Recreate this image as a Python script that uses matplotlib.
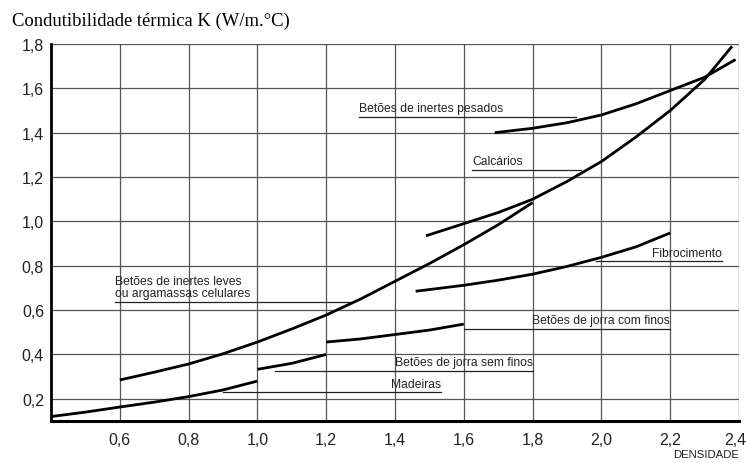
#!/usr/bin/env python3

# plot.py - condutibilidade termica vs densidade

import matplotlib
matplotlib.use('Agg')
import matplotlib.pyplot as plt
from matplotlib.transforms import ScaledTranslation

# curves (densidade, K)
madeiras_x = [0.4, 0.5, 0.6, 0.7, 0.8, 0.9, 1.0]
madeiras_y = [0.12, 0.14, 0.163, 0.185, 0.21, 0.24, 0.28]

jorra_sem_x = [1.0, 1.1, 1.2]
jorra_sem_y = [0.333, 0.36, 0.40]

jorra_com_x = [1.2, 1.3, 1.4, 1.5, 1.6]
jorra_com_y = [0.456, 0.47, 0.49, 0.51, 0.537]

leves_x = [0.6, 0.7, 0.8, 0.9, 1.0, 1.1, 1.2, 1.3, 1.4, 1.5, 1.6, 1.7, 1.8]
leves_y = [0.285, 0.32, 0.357, 0.403, 0.456, 0.515, 0.578, 0.65, 0.73, 0.81, 0.895, 0.985, 1.085]

calcarios_x = [1.49, 1.6, 1.7, 1.8, 1.9, 2.0, 2.1, 2.2, 2.3, 2.38]
calcarios_y = [0.935, 0.99, 1.04, 1.10, 1.18, 1.27, 1.38, 1.50, 1.64, 1.79]

pesados_x = [1.69, 1.8, 1.9, 2.0, 2.1, 2.2, 2.3, 2.39]
pesados_y = [1.40, 1.42, 1.445, 1.48, 1.53, 1.59, 1.65, 1.73]

fibro_x = [1.46, 1.6, 1.7, 1.8, 1.9, 2.0, 2.1, 2.2]
fibro_y = [0.685, 0.712, 0.735, 0.762, 0.797, 0.838, 0.885, 0.948]

# labels: text, text x, underline y, underline x0, x1, alignment
labels = [
    ('Betões de inertes pesados', 1.296, 1.472, 1.296, 1.925, 'left'),
    ('Calcários', 1.625, 1.234, 1.625, 1.94, 'left'),
    ('Fibrocimento', 2.35, 0.82, 1.985, 2.35, 'right'),
    ('Betões de inertes leves\nou argamassas celulares', 0.585, 0.636, 0.585, 1.275, 'left'),
    ('Betões de jorra com finos', 2.2, 0.515, 1.6, 2.2, 'right'),
    ('Betões de jorra sem finos', 1.8, 0.326, 1.05, 1.8, 'right'),
    ('Madeiras', 1.535, 0.23, 0.9, 1.535, 'right'),
]

xticks = [0.6, 0.8, 1.0, 1.2, 1.4, 1.6, 1.8, 2.0, 2.2, 2.4]
xtick_labels = ['0,6', '0,8', '1,0', '1,2', '1,4', '1,6', '1,8', '2,0', '2,2', '2,4']
yticks = [0.2, 0.4, 0.6, 0.8, 1.0, 1.2, 1.4, 1.6, 1.8]
ytick_labels = ['0,2', '0,4', '0,6', '0,8', '1,0', '1,2', '1,4', '1,6', '1,8']


def main():
    plt.rcParams['font.family'] = ['Liberation Sans', 'DejaVu Sans']
    fig = plt.figure(figsize=(7.46, 4.64), dpi=100)
    ax = fig.add_axes([51 / 746, 42 / 464, 688 / 746, 377 / 464])

    ax.set_xlim(0.4, 2.4)
    ax.set_ylim(0.1, 1.8)

    # grid
    for xv in xticks:
        ax.axvline(xv, color='#555555', lw=0.9, zorder=1)
    for yv in yticks:
        ax.axhline(yv, color='#555555', lw=0.9, zorder=1)

    for s in ['top', 'right']:
        ax.spines[s].set_visible(False)
    ax.spines['left'].set_linewidth(2.0)
    ax.spines['bottom'].set_linewidth(2.2)

    curves = [(madeiras_x, madeiras_y), (jorra_sem_x, jorra_sem_y),
              (jorra_com_x, jorra_com_y), (leves_x, leves_y),
              (calcarios_x, calcarios_y), (pesados_x, pesados_y),
              (fibro_x, fibro_y)]
    for xs, ys in curves:
        ax.plot(xs, ys, color='black', lw=2.0, solid_capstyle='butt', zorder=3)

    for text, tx, ty, x0, x1, ha in labels:
        ax.plot([x0, x1], [ty, ty], color='#222222', lw=0.9, zorder=2)
        ax.text(tx, ty + 0.012, text, ha=ha, va='bottom', fontsize=8.7,
                color='#222222', linespacing=1.05, zorder=4)

    ax.set_xticks(xticks)
    ax.set_xticklabels(xtick_labels)
    ax.set_yticks(yticks)
    ax.set_yticklabels(ytick_labels)
    ax.tick_params(length=0, labelsize=11.5, pad=8, colors='#222222')
    ax.tick_params(axis='y', pad=5)

    # last x label sits at the right edge
    last = ax.get_xticklabels()[-1]
    last.set_horizontalalignment('right')
    last.set_transform(last.get_transform() + ScaledTranslation(7 / 100, 0, fig.dpi_scale_trans))

    fig.text(0.016, 0.955, 'Condutibilidade térmica K (W/m.°C)',
             family='Liberation Serif', fontsize=13.4, va='center', ha='left')
    fig.text(0.99, 0.008, 'DENSIDADE', fontsize=8.2, ha='right', va='bottom',
             color='#222222')

    fig.savefig('out.png', dpi=100)


if __name__ == "__main__":
    main()
